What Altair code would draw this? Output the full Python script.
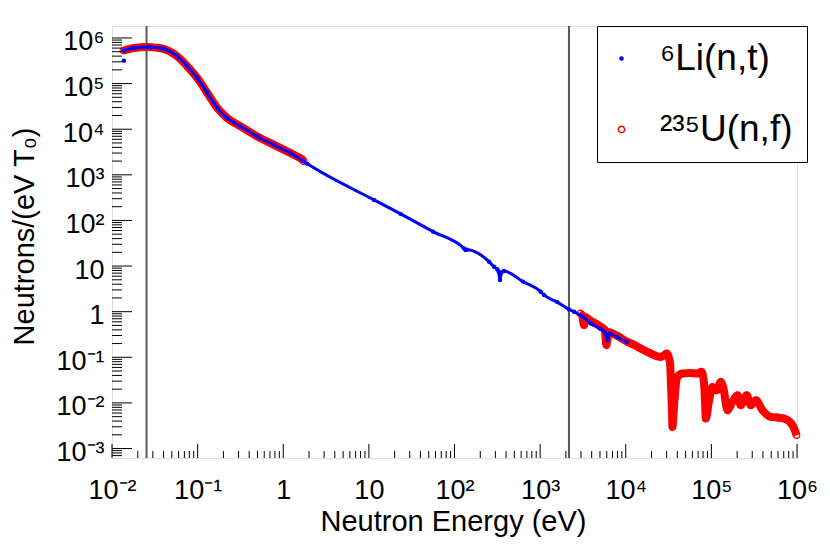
import altair as alt
import pandas as pd

FONT = "Liberation Sans"
LI = "⁶Li(n,t)"
U = "²³⁵U(n,f)"

# ---- values: energy (eV), neutrons/(eV T0) ----
li_stray_energy = [0.01377]
li_stray_flux = [3.18e5]

li_energy = [0.01355, 0.0180, 0.0258, 0.0283, 0.0370, 0.0404, 0.0579, 0.0759,
             0.0993, 0.1297, 0.170, 0.222, 0.318, 0.498, 0.778, 1.219, 1.746,
             1.914, 11.48, 23.5, 56.2, 129, 135, 141, 253, 289, 316, 327, 340,
             353, 378, 631, 1016, 1112, 1585, 2178, 2489, 3162, 3899, 5012,
             5754, 6109, 6457, 8000, 10280]
li_flux = [5.26e5, 6.03e5, 6.34e5, 6.30e5, 5.96e5, 5.74e5, 3.94e5, 2.38e5,
           1.32e5, 6.21e4, 2.90e4, 1.75e4, 1.15e4, 6920, 4550, 2990, 1950,
           1740, 282, 139, 57, 24.5, 22.5, 22.9, 12.5, 9.68, 8.5, 7.6, 4.94,
           7.24, 7.78, 4.57, 2.74, 2.32, 1.62, 1.12, 0.995, 0.776, 0.553, 0.427,
           0.347, 0.24, 0.331, 0.272, 0.218]

u_low_energy = [0.01355, 0.0180, 0.0258, 0.0283, 0.0370, 0.0404, 0.0579, 0.0759,
                0.0993, 0.1297, 0.170, 0.222, 0.318, 0.498, 0.778, 1.219, 1.50,
                1.65, 1.746]
u_low_flux = [5.26e5, 6.03e5, 6.34e5, 6.30e5, 5.96e5, 5.74e5, 3.94e5, 2.38e5,
              1.32e5, 6.21e4, 2.90e4, 1.75e4, 1.15e4, 6920, 4550, 2990, 2450,
              2200, 1950]

u_high_energy = [2924, 3090, 3258, 3428, 3565, 4266, 5105, 5689, 5943, 6310, 7000,
                 8511, 10470, 12590, 14960, 19590, 25650, 30130, 32960, 33600,
                 34200, 34670, 35160, 35970, 37330, 40180, 45920, 57410, 68870,
                 76740, 82220, 84140, 86100, 94190, 103000, 115600, 128800,
                 138400, 154200, 176200, 201400, 220300, 258800, 288400, 330400,
                 395500, 494300, 588800, 706300, 885100, 990000]
u_high_flux = [0.918, 0.832, 0.508, 0.759, 0.711, 0.575, 0.467, 0.398, 0.185,
               0.355, 0.334, 0.275, 0.218, 0.186, 0.156, 0.121, 0.102, 0.121,
               0.0733, 0.0316, 0.01355, 0.0063, 0.00297, 0.00501, 0.01355,
               0.0372, 0.0442, 0.0455, 0.0442, 0.048, 0.0267, 0.0112, 0.00455,
               0.01146, 0.02244, 0.019, 0.0289, 0.0207, 0.00692, 0.01052,
               0.01476, 0.00891, 0.01476, 0.00891, 0.01146, 0.00692, 0.00493,
               0.00479, 0.00455, 0.00324, 0.00195]

marker_energy = [0.0253, 2170]

x_major = [1e-2, 1e-1, 1, 10, 100, 1e3, 1e4, 1e5, 1e6]
x_exps = [-2, -1, 0, 1, 2, 3, 4, 5, 6]
y_major = [1e-3, 1e-2, 1e-1, 1, 10, 100, 1e3, 1e4, 1e5, 1e6]
y_exps = [-3, -2, -1, 0, 1, 2, 3, 4, 5, 6]

X_DOM = [0.01, 1e6]
Y_DOM = [6.2e-4, 1.83e6]

x_minor = [m * 10.0 ** k for k in range(-2, 6) for m in range(2, 10)]
y_minor = [m * 10.0 ** k for k in range(-4, 6) for m in range(2, 10)
           if Y_DOM[0] < m * 10.0 ** k < Y_DOM[1]]

# ---- tables ----
li_df = pd.DataFrame({"E": li_energy, "N": li_flux})
u_df = pd.concat([
    pd.DataFrame({"E": u_low_energy, "N": u_low_flux, "seg": "low"}),
    pd.DataFrame({"E": u_high_energy, "N": u_high_flux, "seg": "high"}),
], ignore_index=True)
pts = pd.concat([
    u_df[["E", "N"]].assign(series=U),
    pd.DataFrame({"E": li_stray_energy + li_energy,
                  "N": li_stray_flux + li_flux}).assign(series=LI),
], ignore_index=True)

SUP = str.maketrans("-0123456789", "⁻⁰¹²³⁴⁵⁶⁷⁸⁹")


def dec_label(k):
    if k == 0:
        return "1"
    if k == 1:
        return "10"
    return "10" + str(k).translate(SUP)


def label_expr(ks):
    parts = [f"round(log(datum.value)/LN10) == {k} ? '{dec_label(k)}'" for k in ks]
    return " : ".join(parts) + " : ''"


W, H = 685, 432

xs = alt.Scale(type="log", domain=X_DOM, nice=False)
ys = alt.Scale(type="log", domain=Y_DOM, nice=False)

x_axis = alt.Axis(values=x_major, labelExpr=label_expr(x_exps), ticks=False,
                  tickSize=0, domain=False, grid=False, labelFont=FONT,
                  labelFontSize=27, labelColor="black", labelPadding=40,
                  labelBaseline="alphabetic", labelAlign="center",
                  labelFlush=False, labelOverlap=False,
                  title="Neutron Energy (eV)", titleFont=FONT, titleFontSize=29,
                  titleFontWeight="normal", titleColor="black", titleX=341,
                  titleY=72.5, titleBaseline="alphabetic", titleAlign="center")
y_axis = alt.Axis(values=y_major, labelExpr=label_expr(y_exps), ticks=False,
                  tickSize=0, domain=False, grid=False, labelFont=FONT,
                  labelFontSize=27, labelColor="black", labelPadding=8,
                  labelOffset=4,
                  labelAlign="right", labelBaseline="middle", labelFlush=False,
                  labelOverlap=False,
                  title="Neutrons/(eV T₀)", titleFont=FONT, titleFontSize=29,
                  titleFontWeight="normal", titleColor="black", titleAngle=270,
                  titleX=-79, titleY=210, titleBaseline="alphabetic",
                  titleAlign="center")

xe = alt.X("E:Q", scale=xs, axis=x_axis)
ye = alt.Y("N:Q", scale=ys, axis=y_axis)

vlines = alt.Chart(pd.DataFrame({"E": marker_energy})).mark_rule(
    color="#555555", strokeWidth=2).encode(x=xe, y=alt.value(0), y2=alt.value(H))

red_line = alt.Chart(u_df).mark_line(color="#ff0000", strokeWidth=8,
                                     interpolate="monotone").encode(
    x=xe, y=ye, detail="seg:N")

leg = alt.Legend(title=None, orient="none", legendX=485, legendY=0,
                 direction="vertical", fillColor="white", strokeColor="black",
                 padding=14, labelFont=FONT, labelFontSize=37,
                 labelColor="black", labelLimit=400, labelOffset=20,
                 rowPadding=33, symbolType="circle", symbolStrokeWidth=1.5,
                 symbolOffset=-8, cornerRadius=0)

dom = [LI, U]
points = alt.Chart(pts).mark_point(filled=False, opacity=1, shape="circle",
                                   strokeWidth=1.2).encode(
    x=xe, y=ye,
    stroke=alt.Stroke("series:N", scale=alt.Scale(domain=dom, range=["#0000ff", "#ff0000"]), legend=leg),
    fill=alt.Fill("series:N", scale=alt.Scale(domain=dom, range=["#0000ff", "rgba(255,255,255,0)"]), legend=leg),
    size=alt.Size("series:N", scale=alt.Scale(domain=dom, range=[10, 40]), legend=leg),
)

blue_line = alt.Chart(li_df).mark_line(color="#0000ff", strokeWidth=3,
                                       interpolate="monotone").encode(x=xe, y=ye)

xt_major = alt.Chart(pd.DataFrame({"E": x_major})).mark_rule(color="black", strokeWidth=1).encode(
    x=xe, y=alt.value(H), y2=alt.value(H - 14))
xt_minor = alt.Chart(pd.DataFrame({"E": x_minor})).mark_rule(color="black", strokeWidth=1).encode(
    x=xe, y=alt.value(H), y2=alt.value(H - 7))
yt_major = alt.Chart(pd.DataFrame({"N": y_major})).mark_rule(color="black", strokeWidth=1).encode(
    y=ye, x=alt.value(0), x2=alt.value(20))
yt_minor = alt.Chart(pd.DataFrame({"N": y_minor})).mark_rule(color="black", strokeWidth=1).encode(
    y=ye, x=alt.value(0), x2=alt.value(10))

chart = alt.layer(vlines, red_line, points, blue_line, xt_major, xt_minor,
                  yt_major, yt_minor).properties(
    width=W, height=H,
    padding={"left": 104, "top": 18, "right": 25, "bottom": 80},
    autosize=alt.AutoSizeParams(type="none"),
).configure_view(stroke="black", strokeWidth=2).configure(font=FONT)

chart.save("out.html", embed_options={"renderer": "svg", "actions": False})
